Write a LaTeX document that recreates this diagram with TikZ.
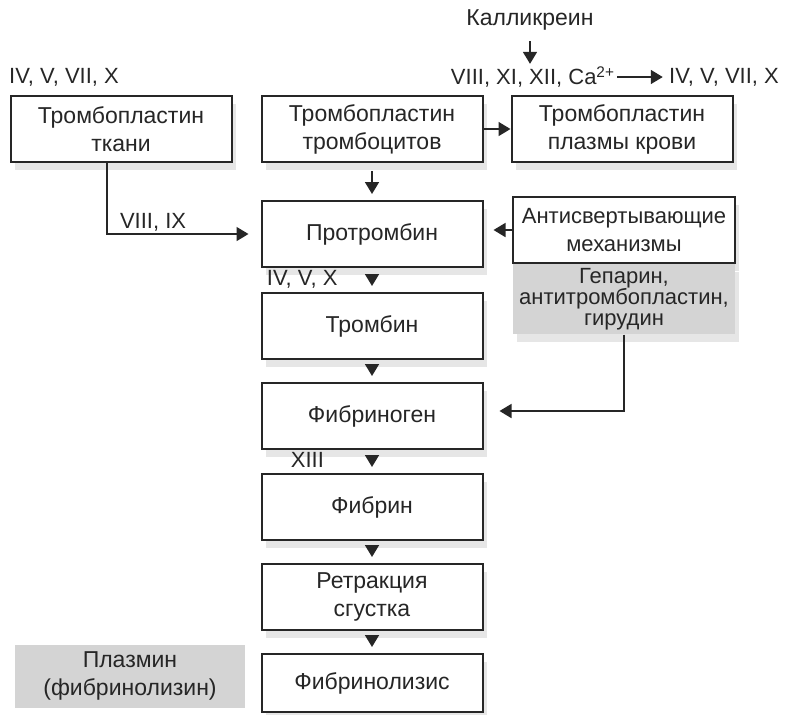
\documentclass[tikz,border=0pt]{standalone}
\usepackage{fontspec}
\setmainfont{Liberation Sans}
\usepackage{xcolor}
\usepackage{tikz}
\usetikzlibrary{positioning, arrows.meta, shadows}
\definecolor{ink}{HTML}{262626}
\definecolor{screentone}{HTML}{D4D4D4}
\definecolor{shade}{HTML}{E6E6E6}

\begin{document}
\begin{tikzpicture}[
  x=0.5pt, y=-0.5pt,
  every node/.style={font=\fontsize{11.5}{14}\selectfont, text=ink},
  stage/.style={
    draw=ink,
    line width=1pt,
    fill=white,
    minimum width=110.5pt,
    minimum height=33pt,
    align=center,
    inner sep=2pt,
    drop shadow={shadow xshift=2pt, shadow yshift=-4pt, fill=shade, opacity=1},
  },
  screen/.style={
    fill=screentone,
    minimum width=111pt,
    align=center,
    inner sep=2pt,
  },
  factor/.style={inner sep=1pt, font=\fontsize{11}{14}\selectfont},
  link/.style={
    -{Triangle[length=6pt, width=7pt]},
    line width=0.8pt,
    draw=ink,
  },
  flow/.style={link, shorten <=4pt, shorten >=3pt},
]
  \useasboundingbox (0,0) rectangle (786,714);

  % three sources of thromboplastin
  \node[stage] (tkani) at (121,129) {Тромбопластин\\ткани};
  \node[stage] (platelet) at (372,129) {Тромбопластин\\тромбоцитов};
  \node[stage] (plasma) at (622,129) {Тромбопластин\\плазмы крови};

  % main cascade
  \node[stage, below=18.5pt of platelet] (prothrombin) {Протромбин};
  \node[stage, below=12pt of prothrombin] (thrombin) {Тромбин};
  \node[stage, below=11pt of thrombin] (fibrinogen) {Фибриноген};
  \node[stage, below=11.5pt of fibrinogen] (fibrin) {Фибрин};
  \node[stage, below=11pt of fibrin] (retraction) {Ретракция\\сгустка};
  \node[stage, below=11pt of retraction, minimum height=29pt] (fibrinolysis) {Фибринолизис};

  % anticoagulant side
  \node[stage, minimum width=111pt, font=\fontsize{11}{14}\selectfont] (anti) at (624,230) {Антисвертывающие\\механизмы};
  \node[screen, below=0pt of anti, minimum height=33.5pt,
        font=\fontsize{11}{10.5}\selectfont,
        drop shadow={shadow xshift=2pt, shadow yshift=-4pt, fill=shade, opacity=1}]
        (agents) {Гепарин,\\антитромбопластин,\\гирудин};
  \node[screen, minimum width=115pt, minimum height=31.5pt] (plasmin) at (130,676) {Плазмин\\(фибринолизин)};

  % factors
  \node (kallikrein) at (530,20) {Калликреин};
  \node[factor] (platefactors) at (533,77) {VIII, XI, XII, Ca\textsuperscript{2+}};
  \node[factor] (plasmafactors) at (724,77) {IV, V, VII, X};
  \node[factor] (tissuefactors) at (64,77) {IV, V, VII, X};
  \node[factor, anchor=north west] (thrombfactors) at ([xshift=2pt]prothrombin.south west) {IV, V, X};
  \node[factor, anchor=north west] (fibrinfactor) at ([xshift=14pt]fibrinogen.south west) {XIII};

  \draw[link, shorten <=2pt] (kallikrein.south) -- (kallikrein.south |- platefactors.north);
  \draw[link, shorten >=2pt] (platefactors) -- (plasmafactors);
  \draw[link] (platelet) -- (plasma);
  \draw[link, shorten >=6pt] ([xshift=-7pt]tkani.south) |- node[factor, pos=0.65, above] {VIII, IX} (prothrombin.west);
  \draw[link, shorten >=5pt] (anti.west) -- (anti.west -| prothrombin.east);
  \draw[link, shorten >=8pt] (agents.south) |- ([yshift=2.5pt]fibrinogen.east);

  \draw[flow] (platelet) -- (prothrombin);
  \draw[flow] (prothrombin) -- (thrombin);
  \draw[flow] (thrombin) -- (fibrinogen);
  \draw[flow] (fibrinogen) -- (fibrin);
  \draw[flow] (fibrin) -- (retraction);
  \draw[flow] (retraction) -- (fibrinolysis);
\end{tikzpicture}
\end{document}
